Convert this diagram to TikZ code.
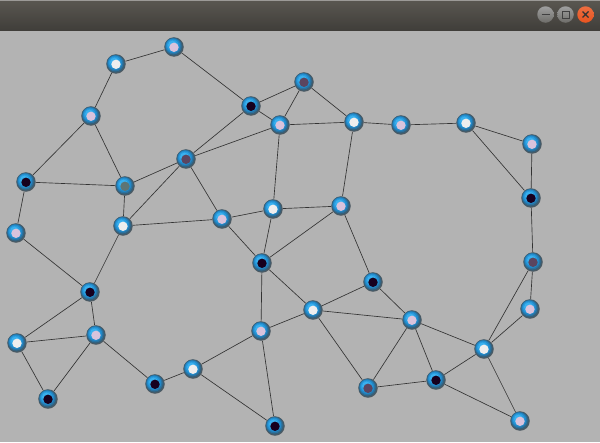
\documentclass[tikz,border=0pt]{standalone}
\usetikzlibrary{calc}
\definecolor{bgc}{HTML}{B3B3B3}
\definecolor{edgec}{HTML}{333333}
\definecolor{cwhite}{HTML}{EEEEEE}
\definecolor{cpink}{HTML}{D9C3DC}
\definecolor{cblack}{HTML}{17001E}
\definecolor{cdark}{HTML}{5B4560}
\definecolor{cgreen}{HTML}{5E7575}
\definecolor{ringA}{HTML}{4D5A63}
\definecolor{ringB}{HTML}{365F78}
\definecolor{ringC}{HTML}{2A72A0}
\definecolor{ringD}{HTML}{2188C8}
\definecolor{ringE}{HTML}{299CDE}
\definecolor{ringF}{HTML}{3AB0EE}
\definecolor{bartop}{HTML}{5A5751}
\definecolor{barbot}{HTML}{403E3A}
\definecolor{btngray}{HTML}{6E6D69}
\definecolor{btnorange}{HTML}{E9541F}
\tikzset{
  ballnode/.style={circle, minimum size=19.5pt, inner sep=0pt, fill=ringA,
    path picture={
      \coordinate (pc) at (path picture bounding box.center);
      \fill[ringB] ($(pc)+(-0.3pt,0.4pt)$) circle (9.0pt);
      \fill[ringC] ($(pc)+(-0.6pt,0.8pt)$) circle (8.2pt);
      \fill[ringD] ($(pc)+(-0.9pt,1.2pt)$) circle (7.2pt);
      \fill[ringE] ($(pc)+(-1.2pt,1.6pt)$) circle (5.9pt);
      \fill[ringF] ($(pc)+(-1.5pt,2.0pt)$) circle (4.4pt);
      \fill[#1] ($(pc)+(0pt,-0.3pt)$) circle (4.7pt);}},
  edge/.style={draw=edgec, line width=0.65pt},
  winbtn/.style={circle, minimum size=16.5pt, inner sep=0pt}
}
\begin{document}
\begin{tikzpicture}[x=1pt,y=-1pt]
\useasboundingbox (0,0) rectangle (600,442);
\fill[bgc] (0,0) rectangle (600,442);
% title bar
\shade[top color=bartop, bottom color=barbot] (0,0) rectangle (600,30);
\draw[color=white!40!bartop, line width=0.8pt] (0,0.6) -- (600,0.6);
\node[winbtn, top color=gray!75, bottom color=btngray] (bmin) at (545.5,14.5) {};
\node[winbtn, top color=gray!75, bottom color=btngray] (bmax) at (565.5,14.5) {};
\node[winbtn, top color=btnorange!85!white, bottom color=btnorange] (bclose) at (585.5,14.5) {};
\draw[line width=1pt, color=black!75] ($(bmin)+(-4,0)$) -- ($(bmin)+(4,0)$);
\draw[line width=1pt, color=black!75] ($(bmax)+(-3.5,-3.5)$) rectangle ($(bmax)+(3.5,3.5)$);
\draw[line width=1.1pt, color=black!80] ($(bclose)+(-3,-3)$) -- ($(bclose)+(3,3)$)
  ($(bclose)+(-3,3)$) -- ($(bclose)+(3,-3)$);
% nodes
\node[ballnode=cwhite] (A) at (116,64) {};
\node[ballnode=cpink] (B) at (174,47) {};
\node[ballnode=cpink] (C) at (91,116) {};
\node[ballnode=cblack] (D) at (251,106) {};
\node[ballnode=cdark] (E) at (304,82) {};
\node[ballnode=cpink] (F) at (280,125) {};
\node[ballnode=cwhite] (G) at (354,122) {};
\node[ballnode=cpink] (H) at (401,125) {};
\node[ballnode=cwhite] (I) at (466,123) {};
\node[ballnode=cpink] (J) at (532,144) {};
\node[ballnode=cblack] (K) at (531,198) {};
\node[ballnode=cdark] (L) at (186,159) {};
\node[ballnode=cgreen] (M) at (125,186) {};
\node[ballnode=cblack] (N) at (26,182) {};
\node[ballnode=cpink] (O) at (16,233) {};
\node[ballnode=cwhite] (P) at (123,226) {};
\node[ballnode=cpink] (Q) at (222,219) {};
\node[ballnode=cwhite] (R) at (273,209) {};
\node[ballnode=cpink] (S) at (341,206) {};
\node[ballnode=cblack] (T) at (262,263) {};
\node[ballnode=cblack] (U) at (373,282) {};
\node[ballnode=cblack] (V) at (90,292) {};
\node[ballnode=cdark] (W) at (533,262) {};
\node[ballnode=cpink] (X) at (530,309) {};
\node[ballnode=cwhite] (Y) at (313,310) {};
\node[ballnode=cpink] (Z) at (412,320) {};
\node[ballnode=cwhite] (AA) at (17,343) {};
\node[ballnode=cpink] (AB) at (96,335) {};
\node[ballnode=cpink] (AC) at (261,331) {};
\node[ballnode=cwhite] (AD) at (484,349) {};
\node[ballnode=cwhite] (AE) at (193,369) {};
\node[ballnode=cblack] (AF) at (155,384) {};
\node[ballnode=cdark] (AG) at (368,388) {};
\node[ballnode=cblack] (AH) at (436,380) {};
\node[ballnode=cblack] (AI) at (48,399) {};
\node[ballnode=cblack] (AJ) at (275,426) {};
\node[ballnode=cpink] (AK) at (520,421) {};
% edges
\foreach \a/\b in {A/B,A/C,B/D,C/M,C/N,D/E,D/F,D/L,E/F,E/G,F/G,F/L,F/R,G/H,G/S,H/I,I/J,I/K,J/K,K/W,W/X,W/AD,X/AD,
  L/M,L/P,L/Q,M/N,M/P,N/O,O/V,P/Q,P/V,Q/R,Q/T,R/S,R/T,S/T,S/U,T/Y,T/AC,U/Y,U/Z,Y/Z,Y/AC,Y/AG,
  Z/AG,Z/AH,Z/AD,AH/AD,AG/AH,AH/AK,AD/AK,V/AA,V/AB,AA/AB,AA/AI,AB/AI,AB/AF,AF/AE,AE/AC,AE/AJ,AC/AJ}
  \draw[edge] (\a) -- (\b);
\end{tikzpicture}
\end{document}
